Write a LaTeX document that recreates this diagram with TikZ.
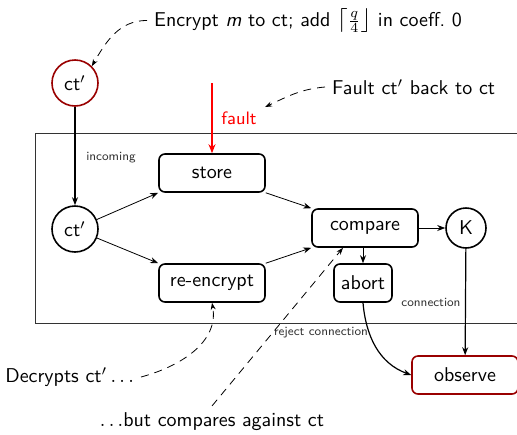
\documentclass[tikz,border=0pt]{standalone}
\usepackage{amsmath}
\usetikzlibrary{arrows.meta}
\renewcommand{\familydefault}{\sfdefault}

\tikzset{
  tip/.style={-{Stealth[length=4pt,width=3pt]}},
  box/.style={draw,thick,rounded corners=3pt,minimum width=53pt,minimum height=19pt,inner sep=2pt},
  state/.style={draw,thick,circle,minimum size=23pt,inner sep=1pt},
  note/.style={font=\fontsize{6.2}{7}\selectfont,text=black!80},
  hint/.style={dash pattern=on 4pt off 3pt,thin,-{Stealth[length=3.5pt,width=2.5pt]}},
}

\begin{document}
\begin{tikzpicture}[x=0.5pt,y=0.5pt]
			\useasboundingbox (0,0) rectangle (517,-434);
			\clip (0,0) rectangle (517,-434);
			\draw [black!80] (35,-133) rectangle (540,-323);

			\node [state,draw=red!60!black] (ctin) at (75,-83) {ct$'$};
			\node [state] (ct) at (75,-229) {ct$'$};
			\node [box] (store) at (212,-173) {store};
			\node [box] (reenc) at (212,-283) {re-encrypt};
			\node [box] (compare) at (365,-228) {compare};
			\node [state,minimum size=20pt] (key) at (466,-228) {K};
			\node [box,minimum width=29pt] (abort) at (363,-283) {abort};
			\node [box,draw=red!60!black] (observe) at (465,-375) {observe};

			\draw [tip,semithick] (ctin) -- (ct) node [note,midway,right=2pt,yshift=-1pt] {incoming};
			\draw [tip] (ct) -- (store.south west);
			\draw [tip] (ct) -- (reenc.north west);
			\draw [tip] (store.south east) -- (compare.north west);
			\draw [tip] (reenc.north east) -- (compare.south west);
			\draw [tip] (compare) -- (key);
			\draw [tip] (compare.south -| abort.north) -- (abort);
			\draw [tip,semithick] (key) -- (observe);
			\draw [tip,semithick] (abort.south) to [out=-85,in=160] (observe.west);
			\node [note] (conn) at (431,-302) {connection};
			\node [note] (reject) at (321,-333) {reject connection};

			\coordinate (faultstart) at (212,-83);
			\draw [-{Stealth[length=4.5pt,width=3.5pt]},red,thick] (faultstart) -- (store.north)
			    node [pos=0.5,right=1pt,font=\small] {fault};

			\node [anchor=base west] (encrypt) at (147,-26) {Encrypt \textit{m} to ct; add {\large$\lceil$}$\frac{q}{4}${\large$\rfloor$} in coeff.\ 0};
			\node [anchor=west] (faultnote) at (325,-87) {Fault ct$'$ back to ct};
			\node [anchor=east] (decrypt) at (141,-377) {Decrypts ct$'\ldots$};
			\node (but) at (212,-422) {$\ldots$but compares against ct};

			\draw [hint] (encrypt.west) to [out=180,in=60] (ctin.north east);
			\draw [hint] (faultnote.west) to [out=185,in=25] (265,-107);
			\draw [hint] (decrypt.east) to [out=15,in=-80] (reenc.south);
			\draw [hint] (but.north) -- ([xshift=-11pt]compare.south);
		\end{tikzpicture}
\end{document}
